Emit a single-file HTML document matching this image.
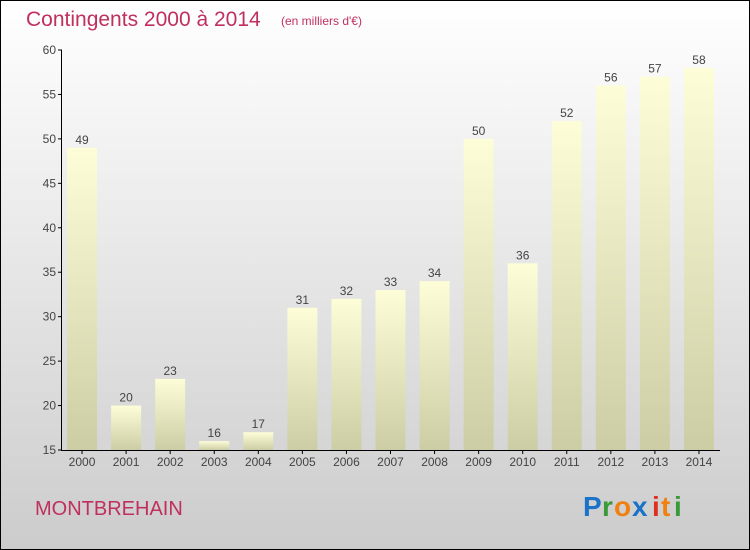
<!DOCTYPE html>
<html><head><meta charset="utf-8"><style>
body{margin:0}
#c{width:750px;height:550px;position:relative;box-sizing:border-box;border:1px solid #000;background:linear-gradient(#ffffff,#f0f0f0 30%,#cccccc);font-family:"Liberation Sans",sans-serif;overflow:hidden}
</style></head><body>
<div id="c">
<svg width="750" height="550" style="position:absolute;left:-1px;top:-1px">
<defs><linearGradient id="bg" x1="0" y1="0" x2="0" y2="1"><stop offset="0" stop-color="#fdfdd8"/><stop offset="1" stop-color="#cdcda5"/></linearGradient></defs>
<text x="26" y="26" font-size="21" fill="#c0305e">Contingents 2000 à 2014</text>
<text x="281" y="25" font-size="12" fill="#c0305e">(en milliers d'€)</text>
<g id="plot"></g>
<text x="35" y="515" font-size="20" fill="#c0305e">MONTBREHAIN</text>
<g font-size="28" font-weight="bold" font-family="Liberation Sans, sans-serif">
<text x="583" y="516" fill="#1a73c8">P</text><text x="602" y="516" fill="#3a9a3a">r</text><text x="614" y="516" fill="#f08010">o</text><text x="632" y="516" fill="#1a73c8">x</text><text x="652" y="516" fill="#e03020">i</text><text x="661" y="516" fill="#f08010">t</text><text x="674" y="516" fill="#3a9a3a">i</text></g>
</svg>
<script>
const years=["2000","2001","2002","2003","2004","2005","2006","2007","2008","2009","2010","2011","2012","2013","2014"];
const values=[49,20,23,16,17,31,32,33,34,50,36,52,56,57,58];
const yTicks=[15,20,25,30,35,40,45,50,55,60];
const NS="http://www.w3.org/2000/svg";
const g=document.getElementById('plot');
const x0=60,x1=721,yTop=50,yBot=450,vMin=15,vMax=60;
const y=v=>yBot-(v-vMin)/(vMax-vMin)*(yBot-yTop);
const slot=(x1-x0)/years.length;
function mk(t,a,txt){const e=document.createElementNS(NS,t);for(const k in a)e.setAttribute(k,a[k]);if(txt!=null)e.textContent=txt;g.appendChild(e);return e;}
years.forEach((yr,i)=>{
 const cx=x0+slot*(i+0.5);
 const b=mk('rect',{x:cx-15,y:y(values[i]),width:30,height:yBot-y(values[i]),fill:'url(#bg)'});
 
 
 const l=mk('text',{x:cx,y:y(values[i])-4,'text-anchor':'middle','font-size':12,fill:'#444'},values[i]);
 
 
 const t=mk('text',{x:cx,y:466,'text-anchor':'middle','font-size':12,fill:'#444'},yr);
 
 
 mk('line',{x1:cx,x2:cx,y1:450,y2:454,stroke:'#000'});
});
yTicks.forEach(v=>{
 const t=mk('text',{x:56,y:y(v)+4,'text-anchor':'end','font-size':12,fill:'#444'},v);
 
 
 mk('line',{x1:58,x2:62,y1:y(v),y2:y(v),stroke:'#000'});
});
const ya=mk('line',{x1:61.5,x2:61.5,y1:yTop,y2:yBot,stroke:'#000'});


const xa=mk('line',{x1:61,x2:720,y1:450.5,y2:450.5,stroke:'#000'});


</script>
</div>
</body></html>
